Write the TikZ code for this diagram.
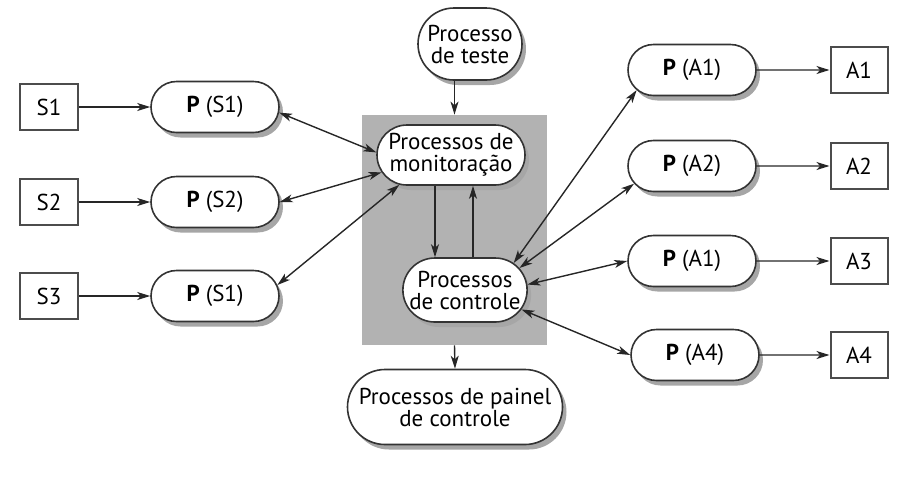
\documentclass[tikz,border=0pt]{standalone}
\usepackage{fontspec}
\setmainfont{PT Sans}
\usetikzlibrary{arrows.meta,shapes.misc,shadows}
\tikzset{
    procnode/.style={rounded rectangle,draw=black!80,fill=white,line width=0.8pt,align=center,inner sep=0pt,
        font=\fontsize{11.5}{11}\selectfont,
        drop shadow={shadow xshift=2pt,shadow yshift=-2.5pt,fill=black!35,opacity=1}},
    pnode/.style={procnode,minimum width=64pt,minimum height=25.5pt},
    boxnode/.style={rectangle,draw=black!70,line width=1pt,fill=white,minimum width=29pt,minimum height=23pt,
        inner sep=0pt,font=\fontsize{11.5}{11}\selectfont},
    grayarea/.style={rectangle,fill=black!30,inner sep=0pt,minimum width=92.5pt,minimum height=115pt},
    link/.style={->,>={Stealth[length=6.5pt,width=4pt,inset=1.8pt]},black!85,line width=0.7pt}
}
\begin{document}
\begin{tikzpicture}[x=0.5pt,y=-0.5pt]
    \useasboundingbox (0,0) rectangle (911,484);

    % area around monitoring and control
    \node[grayarea] (BG) at (454.5,230) {};

    % sensors
    \node[boxnode] (S1) at (49,107) {S1};
    \node[boxnode] (S2) at (49,202) {S2};
    \node[boxnode] (S3) at (49,296) {S3};
    \node[pnode] (PS1) at (215,107) {\textbf{P} (S1)};
    \node[pnode] (PS2) at (215,202) {\textbf{P} (S2)};
    \node[pnode] (PS3) at (215,296) {\textbf{P} (S1)};

    % centre
    \node[procnode,minimum width=52pt,minimum height=36pt] (TST) at (470,44) {Processo\\de teste};
    \node[procnode,minimum width=74pt,minimum height=30pt] (MON) at (451,155) {Processos de\\monitoração};
    \node[procnode,minimum width=57.5pt,minimum height=32pt] (CTL) at (465,290) {Processos\\de controle};
    \node[procnode,minimum width=107.5pt,minimum height=37.5pt] (PNL) at (455,407) {Processos de painel\\de controle};

    % actuators
    \node[pnode] (PA1) at (692,70) {\textbf{P} (A1)};
    \node[pnode] (PA2) at (692,166) {\textbf{P} (A2)};
    \node[pnode] (PA3) at (692,261) {\textbf{P} (A1)};
    \node[pnode] (PA4) at (695,355) {\textbf{P} (A4)};
    \node[boxnode,minimum width=28.5pt] (A1) at (859,70) {A1};
    \node[boxnode,minimum width=28.5pt] (A2) at (859,166) {A2};
    \node[boxnode,minimum width=28.5pt] (A3) at (859,261) {A3};
    \node[boxnode,minimum width=28.5pt] (A4) at (859,355) {A4};

    \draw[link] (S1) -- (PS1);
    \draw[link] (S2) -- (PS2);
    \draw[link] (S3) -- (PS3);
    \draw[link,<->] (PS1.-5) -- (MON.178);
    \draw[link,<->] (PS2.east) -- (MON.194);
    \draw[link,<->] (PS3.10) -- (MON.210);

    \draw[link] (TST.south -| BG.north) -- (BG.north);
    \draw[link] ([xshift=-8pt]MON.south) -- ([xshift=-15pt]CTL.north);
    \draw[link] ([xshift=4pt]CTL.north) -- ([xshift=11pt]MON.south);
    \draw[link] (BG.south) -- (PNL.north);

    \draw[link,<->] (CTL.29) -- (PA1.200);
    \draw[link,<->] (CTL.22) -- (PA2.197);
    \draw[link,<->] (CTL.5) -- (PA3.west);
    \draw[link,<->] (CTL.-19) -- (PA4.west);
    \draw[link] (PA1) -- (A1);
    \draw[link] (PA2) -- (A2);
    \draw[link] (PA3) -- (A3);
    \draw[link] (PA4) -- (A4);
\end{tikzpicture}
\end{document}
